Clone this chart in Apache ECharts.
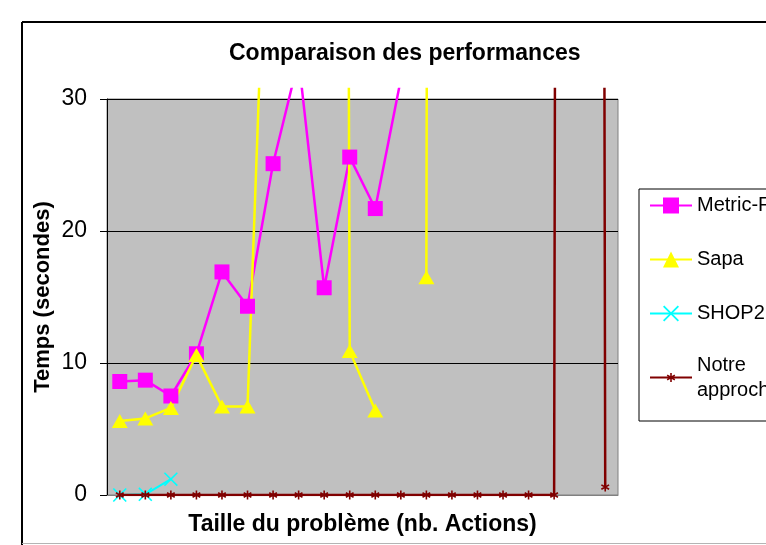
<!DOCTYPE html>
<html>
<head>
<meta charset="utf-8">
<script src="https://cdn.jsdelivr.net/npm/echarts@6/dist/echarts.min.js"></script>
<style>
html,body{margin:0;padding:0;background:#fff;}
#c{width:766px;height:545px;}
</style>
</head>
<body>
<div id="c"></div>
<script>
// ---- data ----
const categories = ['1','2','3','4','5','6','7','8','9','10','11','12','13','14','15','16','17','18','19','20'];
const metricFF = [8.6, 8.7, 7.5, 10.7, 16.9, 14.3, 25.1, 33.0, 15.7, 25.6, 21.7, 31.5, null, null, null, null, null, null, null, null];
const sapa = [5.6, 5.8, 6.6, 10.6, 6.7, 6.7, 60, 150, 600, 10.9, 6.4, null, 16.5, 1000, null, null, null, null, null, null];
const shop2 = [0, 0.05, 1.2, null, null, null, null, null, null, null, null, null, null, null, null, null, null, null, null, null];
const notreApproche = [0, 0, 0, 0, 0, 0, 0, 0, 0, 0, 0, 0, 0, 0, 0, 0, 0, 0, 1000, 0.6];
const yTickMin = 0, yTickMax = 30, yTickStep = 10;

const FONT = '"Liberation Sans", Arial, Helvetica, sans-serif';
const STAR = 'path://M-4,-4L-4,-4M14,14L14,14M4.1,0L5.9,0L5.9,10L4.1,10ZM0.22,3.28L1.12,1.72L9.78,6.72L8.88,8.28ZM1.12,8.28L0.22,6.72L8.88,1.72L9.78,3.28Z';
const CROSS = 'path://M0,0.8L0.8,0L10,9.2L9.2,10ZM0.8,10L0,9.2L9.2,0L10,0.8Z';

// plot frame (pixels)
const plotLeft = 107, plotRight = 148, plotBottom = 50, plotTop = 99, drawTop = 89;
const chartH = 545;
// hidden axis lets lines run a bit above the plot area, as in the original
const yMaxHidden = yTickMax * (chartH - plotBottom - drawTop) / (chartH - plotBottom - plotTop);

const chart = echarts.init(document.getElementById('c'), null, {renderer: 'canvas'});
chart.setOption({
  animation: false,
  backgroundColor: '#fff',
  title: {
    text: 'Comparaison des performances',
    left: 229, top: 42, padding: 0,
    textStyle: {fontSize: 23, fontWeight: 'bold', color: '#000', fontFamily: FONT}
  },
  legend: {
    orient: 'vertical', left: 639, top: 189,
    padding: [4, 10, 21, 10],
    itemGap: 29, itemWidth: 42, itemHeight: 20,
    backgroundColor: '#fff', borderColor: '#000', borderWidth: 1,
    selectedMode: false,
    textStyle: {fontSize: 20, color: '#000', fontFamily: FONT, lineHeight: 25},
    formatter: function (n) { return n === 'Notre approche' ? 'Notre\napproche' : n; },
    data: ['Metric-FF', 'Sapa', 'SHOP2', {name: 'Notre approche', textStyle: {padding: [0, 0, -25, 0]}}]
  },
  graphic: [
    {type: 'line', shape: {x1: 22, y1: 22, x2: 766, y2: 22}, style: {stroke: '#000', lineWidth: 2}, z: 10},
    {type: 'line', shape: {x1: 22, y1: 22, x2: 22, y2: 545}, style: {stroke: '#000', lineWidth: 2}, z: 10},
    {type: 'line', shape: {x1: 22, y1: 543.5, x2: 766, y2: 543.5}, style: {stroke: '#B4B4B4', lineWidth: 1}, z: 10}
  ],
  grid: [
    {left: plotLeft, right: plotRight, top: plotTop, bottom: plotBottom, show: true,
     backgroundColor: '#C0C0C0', borderColor: '#808080', borderWidth: 1, outerBoundsMode: 'none'},
    {left: plotLeft, right: plotRight, top: drawTop, bottom: plotBottom, outerBoundsMode: 'none'}
  ],
  xAxis: [
    {gridIndex: 0, type: 'category', data: categories, boundaryGap: true,
     axisLine: {show: true, lineStyle: {color: '#808080', width: 1}},
     axisTick: {show: false}, axisLabel: {show: false}, splitLine: {show: false},
     name: 'Taille du problème (nb. Actions)', nameLocation: 'middle', nameGap: 18,
     nameTextStyle: {fontSize: 23, fontWeight: 'bold', color: '#000', fontFamily: FONT}},
    {gridIndex: 1, type: 'category', data: categories, boundaryGap: true, show: false}
  ],
  yAxis: [
    {gridIndex: 0, type: 'value', min: yTickMin, max: yTickMax, interval: yTickStep,
     axisLine: {show: true, lineStyle: {color: '#000', width: 1}},
     axisTick: {show: true, length: 7, lineStyle: {color: '#000', width: 1}},
     axisLabel: {fontSize: 23, color: '#000', margin: 20, fontFamily: FONT},
     splitLine: {show: true, lineStyle: {color: '#000', width: 1}},
     name: 'Temps (secondes)', nameLocation: 'middle', nameGap: 53, nameMoveOverlap: false,
     nameTextStyle: {fontSize: 22, fontWeight: 'bold', color: '#000', fontFamily: FONT}},
    {gridIndex: 1, type: 'value', min: yTickMin, max: yMaxHidden, show: false, splitLine: {show: false}}
  ],
  series: [
    {name: 'Metric-FF', type: 'line', xAxisIndex: 1, yAxisIndex: 1, data: metricFF,
     symbol: 'rect', symbolSize: 15, clip: true,
     lineStyle: {color: '#FF00FF', width: 2.5}, itemStyle: {color: '#FF00FF', borderWidth: 0}},
    {name: 'Sapa', type: 'line', xAxisIndex: 1, yAxisIndex: 1, data: sapa,
     symbol: 'triangle', symbolSize: [16, 14], clip: true,
     lineStyle: {color: '#FFFF00', width: 2.5}, itemStyle: {color: '#FFFF00', borderWidth: 0}},
    {name: 'SHOP2', type: 'line', xAxisIndex: 1, yAxisIndex: 1, data: shop2,
     symbol: CROSS, symbolSize: 14, clip: true,
     lineStyle: {color: '#00FFFF', width: 2}, itemStyle: {color: '#00FFFF', borderWidth: 0}},
    {name: 'Notre approche', type: 'line', xAxisIndex: 1, yAxisIndex: 1, data: notreApproche,
     symbol: STAR, symbolSize: 16, clip: true,
     lineStyle: {color: '#800000', width: 2.5}, itemStyle: {color: '#800000', borderWidth: 0}}
  ]
});
</script>
</body>
</html>
